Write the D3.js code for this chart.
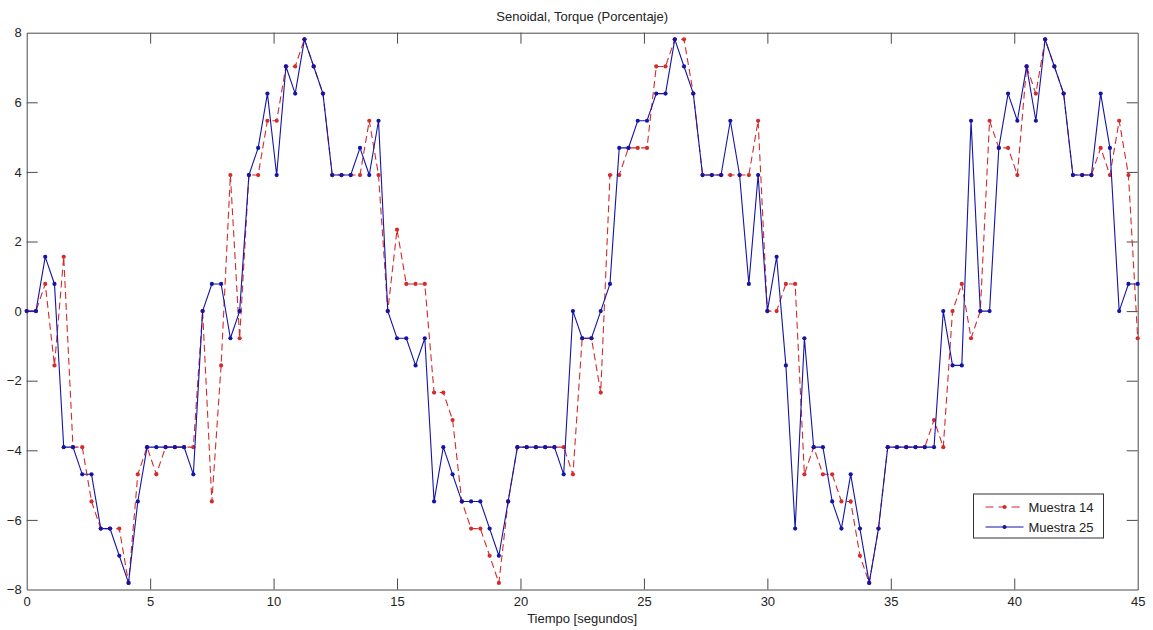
<!DOCTYPE html>
<html>
<head>
<meta charset="utf-8">
<script src="https://cdn.jsdelivr.net/npm/d3@7"></script>
<style>
  body { margin: 0; background: #fff; }
  text { font-family: "Liberation Sans", Arial, sans-serif; fill: #222; }
</style>
</head>
<body>
<div id="chart"></div>
<script>
var width = 1153,
    height = 630;
var margin = { top: 32.7, right: 15.3, bottom: 40.5, left: 26.7 };

var chartTitle = "Senoidal, Torque (Porcentaje)";
var xLabel = "Tiempo [segundos]";
var xTicks = [0, 5, 10, 15, 20, 25, 30, 35, 40, 45];
var yTicks = [-8, -6, -4, -2, 0, 2, 4, 6, 8];
var seriesNames = ["Muestra 14", "Muestra 25"];

// tiempo de cada muestra (s)
var tiempo = [
  0, 0.375, 0.75, 1.125, 1.5, 1.875, 2.25, 2.625,
  3, 3.375, 3.75, 4.125, 4.5, 4.875, 5.25, 5.625,
  6, 6.375, 6.75, 7.125, 7.5, 7.875, 8.25, 8.625,
  9, 9.375, 9.75, 10.125, 10.5, 10.875, 11.25, 11.625,
  12, 12.375, 12.75, 13.125, 13.5, 13.875, 14.25, 14.625,
  15, 15.375, 15.75, 16.125, 16.5, 16.875, 17.25, 17.625,
  18, 18.375, 18.75, 19.125, 19.5, 19.875, 20.25, 20.625,
  21, 21.375, 21.75, 22.125, 22.5, 22.875, 23.25, 23.625,
  24, 24.375, 24.75, 25.125, 25.5, 25.875, 26.25, 26.625,
  27, 27.375, 27.75, 28.125, 28.5, 28.875, 29.25, 29.625,
  30, 30.375, 30.75, 31.125, 31.5, 31.875, 32.25, 32.625,
  33, 33.375, 33.75, 34.125, 34.5, 34.875, 35.25, 35.625,
  36, 36.375, 36.75, 37.125, 37.5, 37.875, 38.25, 38.625,
  39, 39.375, 39.75, 40.125, 40.5, 40.875, 41.25, 41.625,
  42, 42.375, 42.75, 43.125, 43.5, 43.875, 44.25, 44.625,
  45
];

// Muestra 14 (rojo, discontinua)
var muestra14 = [
  0, 0, 0.78, -1.56, 1.56, -3.91, -3.91, -5.47,
  -6.25, -6.25, -6.25, -7.81, -4.69, -3.91, -4.69, -3.91,
  -3.91, -3.91, -3.91, 0, -5.47, -1.56, 3.91, -0.78,
  3.91, 3.91, 5.47, 5.47, 7.03, 7.03, 7.81, 7.03,
  6.25, 3.91, 3.91, 3.91, 3.91, 5.47, 3.91, 0,
  2.34, 0.78, 0.78, 0.78, -2.34, -2.34, -3.13, -5.47,
  -6.25, -6.25, -7.03, -7.81, -5.47, -3.91, -3.91, -3.91,
  -3.91, -3.91, -3.91, -4.69, -0.78, -0.78, -2.34, 3.91,
  3.91, 4.69, 4.69, 4.69, 7.03, 7.03, 7.81, 7.81,
  6.25, 3.91, 3.91, 3.91, 3.91, 3.91, 3.91, 5.47,
  0, 0, 0.78, 0.78, -4.69, -3.91, -4.69, -4.69,
  -5.47, -5.47, -7.03, -7.81, -6.25, -3.91, -3.91, -3.91,
  -3.91, -3.91, -3.13, -3.91, 0, 0.78, -0.78, 0,
  5.47, 4.69, 4.69, 3.91, 7.03, 6.25, 7.81, 7.03,
  6.25, 3.91, 3.91, 3.91, 4.69, 3.91, 5.47, 3.91,
  -0.78
];

// Muestra 25 (azul, continua)
var muestra25 = [
  0, 0, 1.56, 0.78, -3.91, -3.91, -4.69, -4.69,
  -6.25, -6.25, -7.03, -7.81, -5.47, -3.91, -3.91, -3.91,
  -3.91, -3.91, -4.69, 0, 0.78, 0.78, -0.78, 0,
  3.91, 4.69, 6.25, 3.91, 7.03, 6.25, 7.81, 7.03,
  6.25, 3.91, 3.91, 3.91, 4.69, 3.91, 5.47, 0,
  -0.78, -0.78, -1.56, -0.78, -5.47, -3.91, -4.69, -5.47,
  -5.47, -5.47, -6.25, -7.03, -5.47, -3.91, -3.91, -3.91,
  -3.91, -3.91, -4.69, 0, -0.78, -0.78, 0, 0.78,
  4.69, 4.69, 5.47, 5.47, 6.25, 6.25, 7.81, 7.03,
  6.25, 3.91, 3.91, 3.91, 5.47, 3.91, 0.78, 3.91,
  0, 1.56, -1.56, -6.25, -0.78, -3.91, -3.91, -5.47,
  -6.25, -4.69, -6.25, -7.81, -6.25, -3.91, -3.91, -3.91,
  -3.91, -3.91, -3.91, 0, -1.56, -1.56, 5.47, 0,
  0, 4.69, 6.25, 5.47, 7.03, 5.47, 7.81, 7.03,
  6.25, 3.91, 3.91, 3.91, 6.25, 4.69, 0, 0.78,
  0.78
];

var colors = ["#d42b2b", "#1414a6"];
var dashes = ["7,4", null];

var innerW = width - margin.left - margin.right,
    innerH = height - margin.top - margin.bottom;

var x = d3.scaleLinear().domain([0, 45]).range([0, innerW]);
var y = d3.scaleLinear().domain([-8, 8]).range([innerH, 0]);

var svg = d3.select("#chart").append("svg")
    .attr("width", width)
    .attr("height", height);

var g = svg.append("g")
    .attr("transform", "translate(" + margin.left + "," + margin.top + ")");

// caja de ejes
g.append("rect")
    .attr("width", innerW)
    .attr("height", innerH)
    .attr("fill", "#fff");

var tickLen = 11;
var axisColor = "#4a4a4a";

var xAxis = g.append("g")
    .attr("transform", "translate(0," + innerH + ")")
    .call(d3.axisBottom(x).tickValues(xTicks).tickSizeInner(-tickLen).tickSizeOuter(0).tickPadding(5));
var yAxis = g.append("g")
    .call(d3.axisLeft(y).tickValues(yTicks).tickSizeInner(-tickLen).tickSizeOuter(0).tickPadding(5));
var xAxisTop = g.append("g")
    .call(d3.axisTop(x).tickValues(xTicks).tickSizeInner(-tickLen).tickSizeOuter(0).tickFormat(""));
var yAxisRight = g.append("g")
    .attr("transform", "translate(" + innerW + ",0)")
    .call(d3.axisRight(y).tickValues(yTicks).tickSizeInner(-tickLen).tickSizeOuter(0).tickFormat(""));

[xAxis, yAxis, xAxisTop, yAxisRight].forEach(function(a) {
    a.select(".domain").attr("stroke", axisColor);
    a.selectAll(".tick line").attr("stroke", axisColor);
    a.selectAll("text")
        .style("font-family", "'Liberation Sans', Arial, sans-serif")
        .style("font-size", "13px")
        .attr("fill", "#222");
});
xAxis.selectAll("text").attr("dy", "0.9em");
// sin marcas en los extremos (ya los dibuja la caja)
xAxis.selectAll(".tick line").filter(function(d) { return d === 0 || d === 45; }).remove();
xAxisTop.selectAll(".tick line").filter(function(d) { return d === 0 || d === 45; }).remove();
yAxis.selectAll(".tick line").filter(function(d) { return d === -8 || d === 8; }).remove();
yAxisRight.selectAll(".tick line").filter(function(d) { return d === -8 || d === 8; }).remove();

var line = d3.line()
    .x(function(d) { return x(d.t); })
    .y(function(d) { return y(d.v); });

var series = [muestra14, muestra25].map(function(vals, k) {
    return {
        name: seriesNames[k],
        color: colors[k],
        dash: dashes[k],
        points: vals.map(function(v, i) { return { t: tiempo[i], v: v }; })
    };
});

var plot = g.append("g");
series.forEach(function(s) {
    plot.append("path")
        .datum(s.points)
        .attr("fill", "none")
        .attr("stroke", s.color)
        .attr("stroke-width", 1.1)
        .attr("stroke-dasharray", s.dash)
        .attr("d", line);
    plot.selectAll(null)
        .data(s.points)
        .enter().append("circle")
        .attr("cx", function(d) { return x(d.t); })
        .attr("cy", function(d) { return y(d.v); })
        .attr("r", 2.1)
        .attr("fill", s.color);
});

// título y etiqueta del eje x
svg.append("text")
    .attr("x", margin.left + innerW / 2)
    .attr("y", 21)
    .attr("text-anchor", "middle")
    .style("font-size", "13px")
    .text(chartTitle);

svg.append("text")
    .attr("x", margin.left + innerW / 2)
    .attr("y", 623)
    .attr("text-anchor", "middle")
    .style("font-size", "13px")
    .text(xLabel);

// leyenda
var legend = svg.append("g")
    .attr("transform", "translate(973.5,494)");
legend.append("rect")
    .attr("width", 130)
    .attr("height", 44)
    .attr("fill", "#fff")
    .attr("stroke", "#333")
    .attr("stroke-width", 1);
series.forEach(function(s, k) {
    var ly = 13 + k * 20;
    legend.append("line")
        .attr("x1", 12).attr("x2", 50)
        .attr("y1", ly).attr("y2", ly)
        .attr("stroke", s.color)
        .attr("stroke-width", 1.1)
        .attr("stroke-dasharray", s.dash ? "8,5" : null);
    legend.append("circle")
        .attr("cx", 31).attr("cy", ly)
        .attr("r", 2.1)
        .attr("fill", s.color);
    legend.append("text")
        .attr("x", 55)
        .attr("y", ly + 5)
        .style("font-size", "13px")
        .text(s.name);
});
</script>
</body>
</html>
